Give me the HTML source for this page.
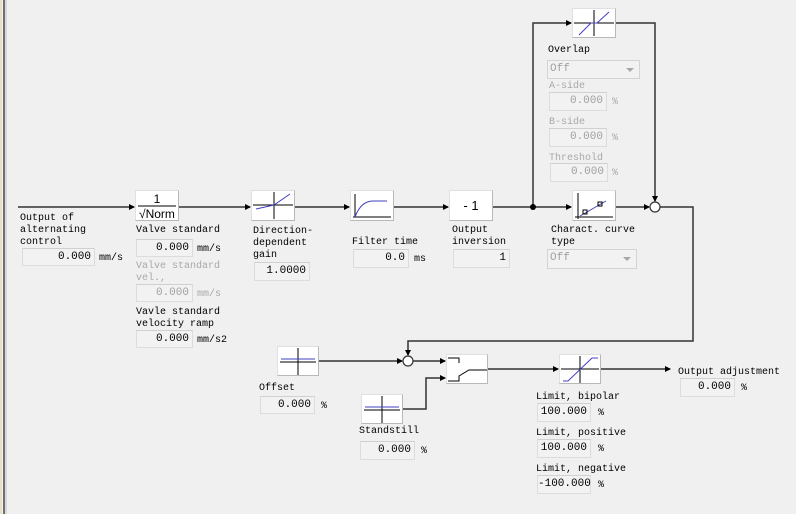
<!DOCTYPE html>
<html><head><meta charset="utf-8"><style>
body{margin:0;width:796px;height:514px;background:#f0f0f0;overflow:hidden;position:relative;font-family:"Liberation Mono","Noto Sans CJK SC",monospace;font-size:10px;color:#000}
.t{position:absolute;line-height:12px;white-space:pre;margin-top:2px}
.g{color:#a8a8a8}
.f{position:absolute;background:#f2f2f2;border:1px solid #dcdcdc;border-top-color:#d0d0d0;box-sizing:border-box;text-align:right;padding-right:3px;font-size:11px;line-height:16px}
.fg{color:#a0a0a0}
.b{position:absolute;background:#fff;border:1px solid #b8b8b8;border-top-color:#e0e0e0;border-left-color:#e0e0e0;box-sizing:border-box}
.dd{position:absolute;background:#f2f2f2;border:1px solid #d4d4d4;box-sizing:border-box;color:#a0a0a0;font-size:11px;line-height:16px;padding-left:2px}
.dd:after{content:"";position:absolute;right:5px;top:7px;border:4px solid transparent;border-top:4px solid #a8a8a8}
</style></head><body>
<div style="position:absolute;left:0;top:0;width:2px;height:514px;background:#e8e0c8"></div>
<div style="position:absolute;left:3px;top:0;width:2px;height:514px;background:#707070"></div>
<div style="position:absolute;left:5px;top:0;width:2px;height:514px;background:#d8d8d8"></div>

<svg width="796" height="514" style="position:absolute;left:0;top:0">
<defs><marker id="a" markerWidth="6" markerHeight="6" refX="5" refY="3" orient="auto" markerUnits="userSpaceOnUse"><path d="M0,0 L6,3 L0,6z" fill="#000"/></marker></defs>
<g stroke="#333" stroke-width="1.5" fill="none">
<path d="M18,207 H134" marker-end="url(#a)"/>
<path d="M178,207 H250" marker-end="url(#a)"/>
<path d="M294,207 H349" marker-end="url(#a)"/>
<path d="M393,207 H448" marker-end="url(#a)"/>
<path d="M492,207 H571" marker-end="url(#a)"/>
<path d="M533,207 V23 H571" marker-end="url(#a)"/>
<path d="M615,23 H655 V201" marker-end="url(#a)"/>
<path d="M615,207 H649" marker-end="url(#a)"/>
<path d="M660,207 H693 V341 H408 V355" marker-end="url(#a)"/>
<path d="M318,361 H402" marker-end="url(#a)"/>
<path d="M413,361 H445" marker-end="url(#a)"/>
<path d="M403,409 H426 V378 H445" marker-end="url(#a)"/>
<path d="M487,369 H558" marker-end="url(#a)"/>
<path d="M600,369 H670" marker-end="url(#a)"/>
</g>
<circle cx="533" cy="207" r="3" fill="#000"/>
<circle cx="655" cy="207" r="5" fill="#fff" stroke="#333" stroke-width="1.2"/>
<circle cx="408" cy="361" r="5" fill="#fff" stroke="#333" stroke-width="1.2"/>
</svg>

<div class="b" style="left:135px;top:190px;width:44px;height:31px">
<svg width="42" height="29"><text x="21" y="12" font-size="12" text-anchor="middle" font-family="Liberation Sans">1</text><line x1="2" y1="15" x2="40" y2="15" stroke="#000"/><text x="3" y="27" font-size="12" font-family="Liberation Sans">√Norm</text></svg></div>
<div class="b" style="left:251px;top:190px;width:44px;height:31px">
<svg width="42" height="29"><line x1="1" y1="14" x2="41" y2="14" stroke="#000"/><line x1="22" y1="1" x2="22" y2="28" stroke="#000"/><path d="M4,18 L22,14 L38,3" stroke="#4040c0" fill="none"/></svg></div>
<div class="b" style="left:350px;top:190px;width:44px;height:31px">
<svg width="42" height="29"><path d="M4,26 V3 M2,26 H40" stroke="#000" fill="none"/><path d="M4,26 Q10,10 22,10 H36" stroke="#4040c0" fill="none"/></svg></div>
<div class="b" style="left:449px;top:190px;width:44px;height:31px;text-align:center;font-family:'Liberation Sans';font-size:13px;line-height:30px">- 1</div>
<div class="b" style="left:572px;top:190px;width:44px;height:31px">
<svg width="42" height="29"><path d="M5,28 V2 M2,26 H40" stroke="#000" fill="none"/><path d="M7,25 L33,10" stroke="#4040c0"/><rect x="10" y="19" width="4" height="4" fill="none" stroke="#000"/><rect x="25" y="11" width="4" height="4" fill="none" stroke="#000"/></svg></div>
<div class="b" style="left:572px;top:8px;width:44px;height:30px">
<svg width="42" height="28"><line x1="1" y1="14" x2="41" y2="14" stroke="#000"/><line x1="21" y1="1" x2="21" y2="27" stroke="#000"/><path d="M6,26 L18,14 H24 L36,3" stroke="#4040c0" fill="none"/></svg></div>
<div class="b" style="left:277px;top:346px;width:42px;height:30px">
<svg width="40" height="28"><line x1="2" y1="15" x2="38" y2="15" stroke="#000"/><line x1="20" y1="1" x2="20" y2="28" stroke="#000"/><line x1="3" y1="12" x2="37" y2="12" stroke="#4040c0"/></svg></div>
<div class="b" style="left:361px;top:394px;width:42px;height:30px">
<svg width="40" height="28"><line x1="2" y1="15" x2="38" y2="15" stroke="#000"/><line x1="20" y1="1" x2="20" y2="28" stroke="#000"/><line x1="3" y1="12" x2="37" y2="12" stroke="#4040c0"/></svg></div>
<div class="b" style="left:446px;top:354px;width:42px;height:30px">
<svg width="40" height="28"><path d="M1,3 H12 V8 M1,26 H12 V21 L22,15 H40" stroke="#000" fill="none"/></svg></div>
<div class="b" style="left:559px;top:354px;width:42px;height:30px">
<svg width="40" height="28"><line x1="1" y1="14" x2="39" y2="14" stroke="#000"/><line x1="20" y1="1" x2="20" y2="28" stroke="#000"/><path d="M3,26 H8 L32,3 H38" stroke="#4040c0" fill="none"/></svg></div>

<div class="t" style="left:20px;top:211px">Output of
alternating
control</div>
<div class="f" style="left:22px;top:248px;width:73px;height:18px">0.000</div><div class="t" style="left:99px;top:251px">mm/s</div>

<div class="t" style="left:136px;top:223px">Valve standard</div>
<div class="f" style="left:136px;top:239px;width:57px;height:18px">0.000</div><div class="t" style="left:197px;top:242px">mm/s</div>
<div class="t g" style="left:136px;top:259px">Valve standard
vel.,</div>
<div class="f fg" style="left:136px;top:284px;width:57px;height:18px">0.000</div><div class="t g" style="left:197px;top:287px">mm/s</div>
<div class="t" style="left:136px;top:305px">Vavle standard
velocity ramp</div>
<div class="f" style="left:136px;top:330px;width:57px;height:18px">0.000</div><div class="t" style="left:197px;top:333px">mm/s2</div>

<div class="t" style="left:253px;top:224px">Direction-
dependent
gain</div>
<div class="f" style="left:254px;top:262px;width:56px;height:19px">1.0000</div>

<div class="t" style="left:352px;top:235px">Filter time</div>
<div class="f" style="left:353px;top:249px;width:56px;height:19px">0.0</div><div class="t" style="left:414px;top:252px">ms</div>

<div class="t" style="left:452px;top:223px">Output
inversion</div>
<div class="f" style="left:453px;top:249px;width:57px;height:19px">1</div>

<div class="t" style="left:551px;top:223px">Charact. curve
type</div>
<div class="dd" style="left:547px;top:249px;width:90px;height:20px">Off</div>

<div class="t" style="left:548px;top:43px">Overlap</div>
<div class="dd" style="left:547px;top:60px;width:93px;height:19px">Off</div>
<div class="t g" style="left:549px;top:79px">A-side</div>
<div class="f fg" style="left:549px;top:92px;width:58px;height:19px">0.000</div><div class="t g" style="left:612px;top:95px">%</div>
<div class="t g" style="left:549px;top:115px">B-side</div>
<div class="f fg" style="left:549px;top:128px;width:58px;height:19px">0.000</div><div class="t g" style="left:612px;top:131px">%</div>
<div class="t g" style="left:549px;top:151px">Threshold</div>
<div class="f fg" style="left:550px;top:163px;width:58px;height:19px">0.000</div><div class="t g" style="left:612px;top:166px">%</div>

<div class="t" style="left:259px;top:381px">Offset</div>
<div class="f" style="left:260px;top:396px;width:55px;height:18px">0.000</div><div class="t" style="left:321px;top:399px">%</div>

<div class="t" style="left:359px;top:424px">Standstill</div>
<div class="f" style="left:360px;top:441px;width:55px;height:19px">0.000</div><div class="t" style="left:421px;top:444px">%</div>

<div class="t" style="left:536px;top:390px">Limit, bipolar</div>
<div class="f" style="left:537px;top:403px;width:54px;height:19px">100.000</div><div class="t" style="left:598px;top:406px">%</div>
<div class="t" style="left:536px;top:426px">Limit, positive</div>
<div class="f" style="left:537px;top:439px;width:54px;height:19px">100.000</div><div class="t" style="left:598px;top:442px">%</div>
<div class="t" style="left:536px;top:462px">Limit, negative</div>
<div class="f" style="left:537px;top:475px;width:54px;height:19px">-100.000</div><div class="t" style="left:598px;top:478px">%</div>

<div class="t" style="left:678px;top:365px">Output adjustment</div>
<div class="f" style="left:680px;top:378px;width:55px;height:19px">0.000</div><div class="t" style="left:741px;top:381px">%</div>
</body></html>
